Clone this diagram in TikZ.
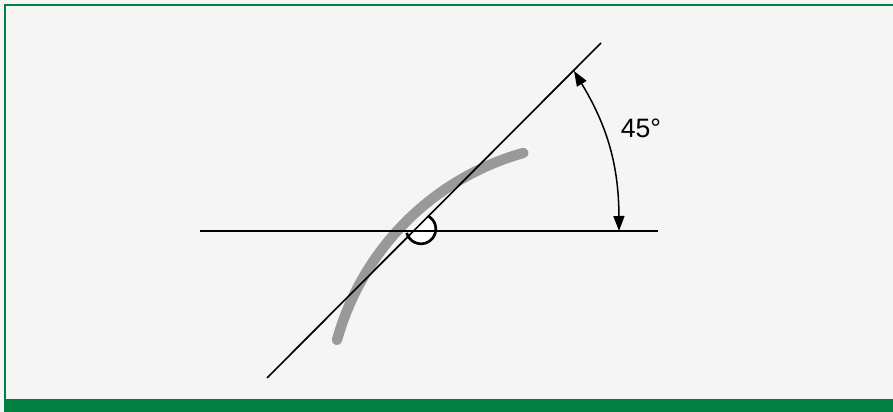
\documentclass[tikz,border=0pt]{standalone}
\usepackage{fontspec}
\setmainfont{Liberation Sans}
\usetikzlibrary{arrows.meta}
\definecolor{frameG}{RGB}{0,128,64}
\definecolor{paper}{RGB}{245,245,245}
\definecolor{traceG}{RGB}{153,153,153}

\begin{document}
\begin{tikzpicture}[x=0.3mm,y=0.3mm,
  axis/.style={black,line width=0.72mm},
  slope/.style={black,line width=0.5mm},
  trace/.style={traceG,line width=3.1mm,line cap=round},
  ringline/.style={black,line width=0.8mm},
  angarr/.style={black,line width=0.45mm,
    {Triangle[length=4.5mm,width=3.3mm]}-{Triangle[length=4.5mm,width=3.3mm]}},
  lbl/.style={font=\fontsize{22.7}{27}\selectfont,inner sep=0pt}]
  % background and frame
  \fill[paper] (0,0) rectangle (893,412);
  \useasboundingbox (0,0) rectangle (893,412);
  \fill[frameG] (4,0) rectangle (893,13);
  \draw[frameG,line width=0.45mm] (5,13) -- (5,407) -- (893,407);
  % points
  \coordinate (hL) at (200,181); \coordinate (hR) at (658,181);
  \coordinate (dA) at (267,34);  \coordinate (dB) at (601,369);
  \coordinate (ring) at (421,183);
  \coordinate (tS) at (337,72);
  \coordinate (a1) at (619,181); \coordinate (a2) at (574,341);
  % white ring face
  \fill[white] (ring) ++(63:14.8) arc[start angle=63,end angle=-165,radius=14.8] -- cycle;
  % gray trace
  \draw[trace] (tS) arc[start angle=164.5,end angle=105.7,radius=269];
  % lines
  \draw[axis] (hL) -- (hR);
  \draw[slope] (dA) -- (dB);
  % ring
  \draw[ringline] (ring) ++(63:14.8) arc[start angle=63,end angle=-165,radius=14.8];
  % angle
  \draw[angarr] (a1) to[bend right=15.5] (a2);
  \node[lbl] (deg) at (641,284) {45°};
\end{tikzpicture}
\end{document}
